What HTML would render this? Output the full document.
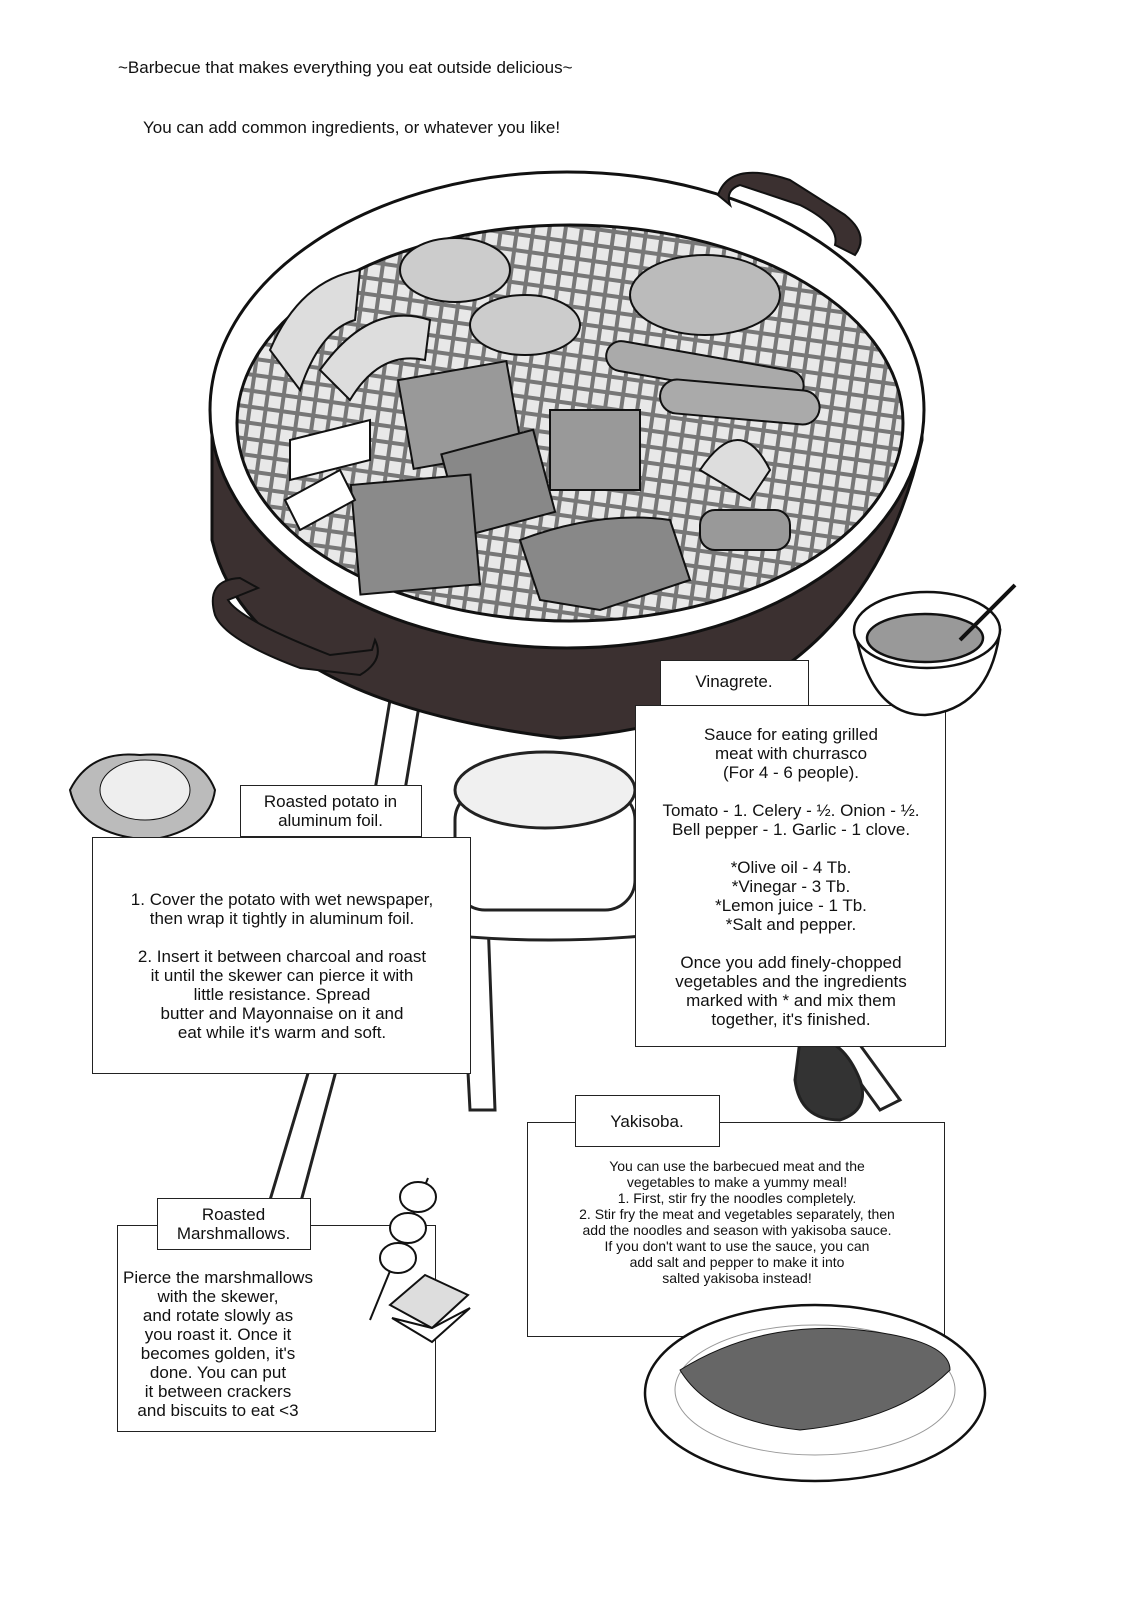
<!DOCTYPE html>
<html><head><meta charset="utf-8"><style>
body{margin:0;width:1125px;height:1600px;background:#fff;position:relative;overflow:hidden;font-family:"Liberation Sans",sans-serif;color:#111}
.t{position:absolute;font-size:17px;line-height:19px;text-align:center;white-space:nowrap}
.box{position:absolute;border:1.5px solid #222;background:#fff}
</style></head><body>
<svg width="1125" height="1600" style="position:absolute;left:0;top:0">
<defs>
<pattern id="grid" width="16" height="16" patternUnits="userSpaceOnUse" patternTransform="rotate(8)">
<rect width="16" height="16" fill="#777"/>
<rect x="2" y="2" width="12" height="12" fill="#e8e8e8"/>
</pattern>
</defs>
<g stroke="#222" stroke-width="3" fill="#fff">
<path d="M330 1000 L270 1200 L300 1205 L355 1000Z"/>
<path d="M800 1000 L880 1110 L900 1100 L820 990Z"/>
<path d="M460 920 L470 1110 L495 1110 L488 920Z"/>
<path d="M390 700 L340 1000 L370 1000 L420 700Z"/>
<ellipse cx="550" cy="900" rx="210" ry="40"/>
<rect x="455" y="790" width="180" height="120" rx="30"/>
<ellipse cx="545" cy="790" rx="90" ry="38" fill="#f0f0f0"/>
<path d="M800 1040 q40 -10 60 40 q10 30 -20 40 q-40 0 -45 -40z" fill="#333"/>
</g>
<path d="M212 540 Q250 700 560 738 Q860 720 922 440 L922 420 Q900 620 570 625 Q240 610 212 430Z" fill="#3b3030" stroke="#111" stroke-width="3"/>
<ellipse cx="567" cy="410" rx="357" ry="238" fill="#fff" stroke="#111" stroke-width="3"/>
<ellipse cx="570" cy="423" rx="333" ry="198" fill="url(#grid)" stroke="#111" stroke-width="3"/>
<path d="M718 195 Q730 160 790 180 L845 215 Q870 235 855 255 L835 245 Q840 225 800 205 L740 185 Q725 190 730 205Z" fill="#3b3030" stroke="#111" stroke-width="2"/>
<path d="M215 615 Q205 580 240 578 L258 588 L228 600 Q240 620 330 655 L372 650 L375 640 Q385 660 360 675 L300 668 Q225 640 215 615Z" fill="#3b3030" stroke="#111" stroke-width="2"/>
<g stroke="#111" stroke-width="2">
<ellipse cx="455" cy="270" rx="55" ry="32" fill="#ccc"/>
<ellipse cx="525" cy="325" rx="55" ry="30" fill="#ccc"/>
<ellipse cx="705" cy="295" rx="75" ry="40" fill="#bbb"/>
<path d="M270 350 Q300 280 360 270 L355 320 Q320 330 300 390Z" fill="#ddd"/>
<path d="M320 370 Q370 300 430 320 L425 360 Q380 350 350 400Z" fill="#ddd"/>
<rect x="405" y="370" width="110" height="90" fill="#999" transform="rotate(-10 460 415)"/>
<rect x="450" y="440" width="95" height="85" fill="#888" transform="rotate(-15 500 480)"/>
<rect x="550" y="410" width="90" height="80" fill="#999"/>
<rect x="355" y="480" width="120" height="110" fill="#8a8a8a" transform="rotate(-5 410 530)"/>
<path d="M520 540 Q600 510 670 520 L690 580 L600 610 L540 600Z" fill="#888"/>
<rect x="605" y="355" width="200" height="30" rx="15" fill="#aaa" transform="rotate(10 700 370)"/>
<rect x="660" y="385" width="160" height="34" rx="17" fill="#aaa" transform="rotate(5 740 400)"/>
<path d="M700 470 Q740 410 770 470 L750 500Z" fill="#ddd"/>
<rect x="700" y="510" width="90" height="40" rx="15" fill="#999"/>
<path d="M290 440 L370 420 L370 460 L290 480Z" fill="#fff"/>
<path d="M285 500 L340 470 L355 500 L300 530Z" fill="#fff"/>
</g>
<path d="M70 790 Q90 750 140 755 Q200 750 215 790 Q210 830 150 840 Q80 835 70 790Z" fill="#bbb" stroke="#111" stroke-width="2"/>
<ellipse cx="145" cy="790" rx="45" ry="30" fill="#eee" stroke="#111"/>
</svg>

<div class="t" style="left:118px;top:58px;">~Barbecue that makes everything you eat outside delicious~</div>
<div class="t" style="left:143px;top:118px;">You can add common ingredients, or whatever you like!</div>

<div class="box" style="left:635px;top:705px;width:309px;height:340px"></div>
<div class="box" style="left:660px;top:660px;width:147px;height:44px"></div>
<div class="t" style="left:660px;top:672px;width:148px">Vinagrete.</div>
<div class="t" style="left:636px;top:725px;width:310px">Sauce for eating grilled<br>meat with churrasco<br>(For 4 - 6 people).<br><br>Tomato - 1. Celery - ½. Onion - ½.<br>Bell pepper - 1. Garlic - 1 clove.<br><br>*Olive oil - 4 Tb.<br>*Vinegar - 3 Tb.<br>*Lemon juice - 1 Tb.<br>*Salt and pepper.<br><br>Once you add finely-chopped<br>vegetables and the ingredients<br>marked with * and mix them<br>together, it's finished.</div>

<div class="box" style="left:92px;top:837px;width:377px;height:235px"></div>
<div class="box" style="left:240px;top:785px;width:180px;height:50px"></div>
<div class="t" style="left:240px;top:792px;width:181px">Roasted potato in<br>aluminum foil.</div>
<div class="t" style="left:93px;top:890px;width:378px">1. Cover the potato with wet newspaper,<br>then wrap it tightly in aluminum foil.<br><br>2. Insert it between charcoal and roast<br>it until the skewer can pierce it with<br>little resistance. Spread<br>butter and Mayonnaise on it and<br>eat while it's warm and soft.</div>

<div class="box" style="left:527px;top:1122px;width:416px;height:213px"></div>
<div class="box" style="left:575px;top:1095px;width:143px;height:50px"></div>
<div class="t" style="left:575px;top:1112px;width:144px">Yakisoba.</div>
<div class="t" style="left:528px;top:1158px;width:418px;font-size:14px;line-height:16px">You can use the barbecued meat and the<br>vegetables to make a yummy meal!<br>1. First, stir fry the noodles completely.<br>2. Stir fry the meat and vegetables separately, then<br>add the noodles and season with yakisoba sauce.<br>If you don't want to use the sauce, you can<br>add salt and pepper to make it into<br>salted yakisoba instead!</div>

<div class="box" style="left:117px;top:1225px;width:317px;height:205px"></div>
<div class="box" style="left:157px;top:1198px;width:152px;height:50px"></div>
<div class="t" style="left:157px;top:1205px;width:153px">Roasted<br>Marshmallows.</div>
<div class="t" style="left:118px;top:1268px;width:200px">Pierce the marshmallows<br>with the skewer,<br>and rotate slowly as<br>you roast it. Once it<br>becomes golden, it's<br>done. You can put<br>it between crackers<br>and biscuits to eat &lt;3</div>

<svg width="1125" height="1600" style="position:absolute;left:0;top:0">
<g stroke="#111" stroke-width="2.5">
<path d="M855 630 Q870 715 925 715 Q990 710 1000 630Z" fill="#fff"/>
<ellipse cx="927" cy="630" rx="73" ry="38" fill="#fff"/>
<ellipse cx="925" cy="638" rx="58" ry="24" fill="#999"/>
<path d="M960 640 L1015 585" stroke-width="4"/>
</g>
<g stroke="#111" stroke-width="2" fill="#fff">
<line x1="428" y1="1178" x2="370" y2="1320"/>
<ellipse cx="418" cy="1197" rx="18" ry="15"/>
<ellipse cx="408" cy="1228" rx="18" ry="15"/>
<ellipse cx="398" cy="1258" rx="18" ry="15"/>
<path d="M390 1305 L425 1275 L468 1295 L432 1328Z" fill="#ddd"/>
<path d="M392 1318 L432 1342 L470 1308 L432 1328Z"/>
</g>
<ellipse cx="815" cy="1393" rx="170" ry="88" fill="#fff" stroke="#111" stroke-width="2.5"/>
<ellipse cx="815" cy="1390" rx="140" ry="65" fill="#fff" stroke="#999"/>
<path d="M680 1370 Q760 1320 860 1330 Q950 1340 950 1370 Q900 1420 800 1430 Q710 1420 680 1370Z" fill="#666" stroke="#111"/>
</svg>
</body></html>
